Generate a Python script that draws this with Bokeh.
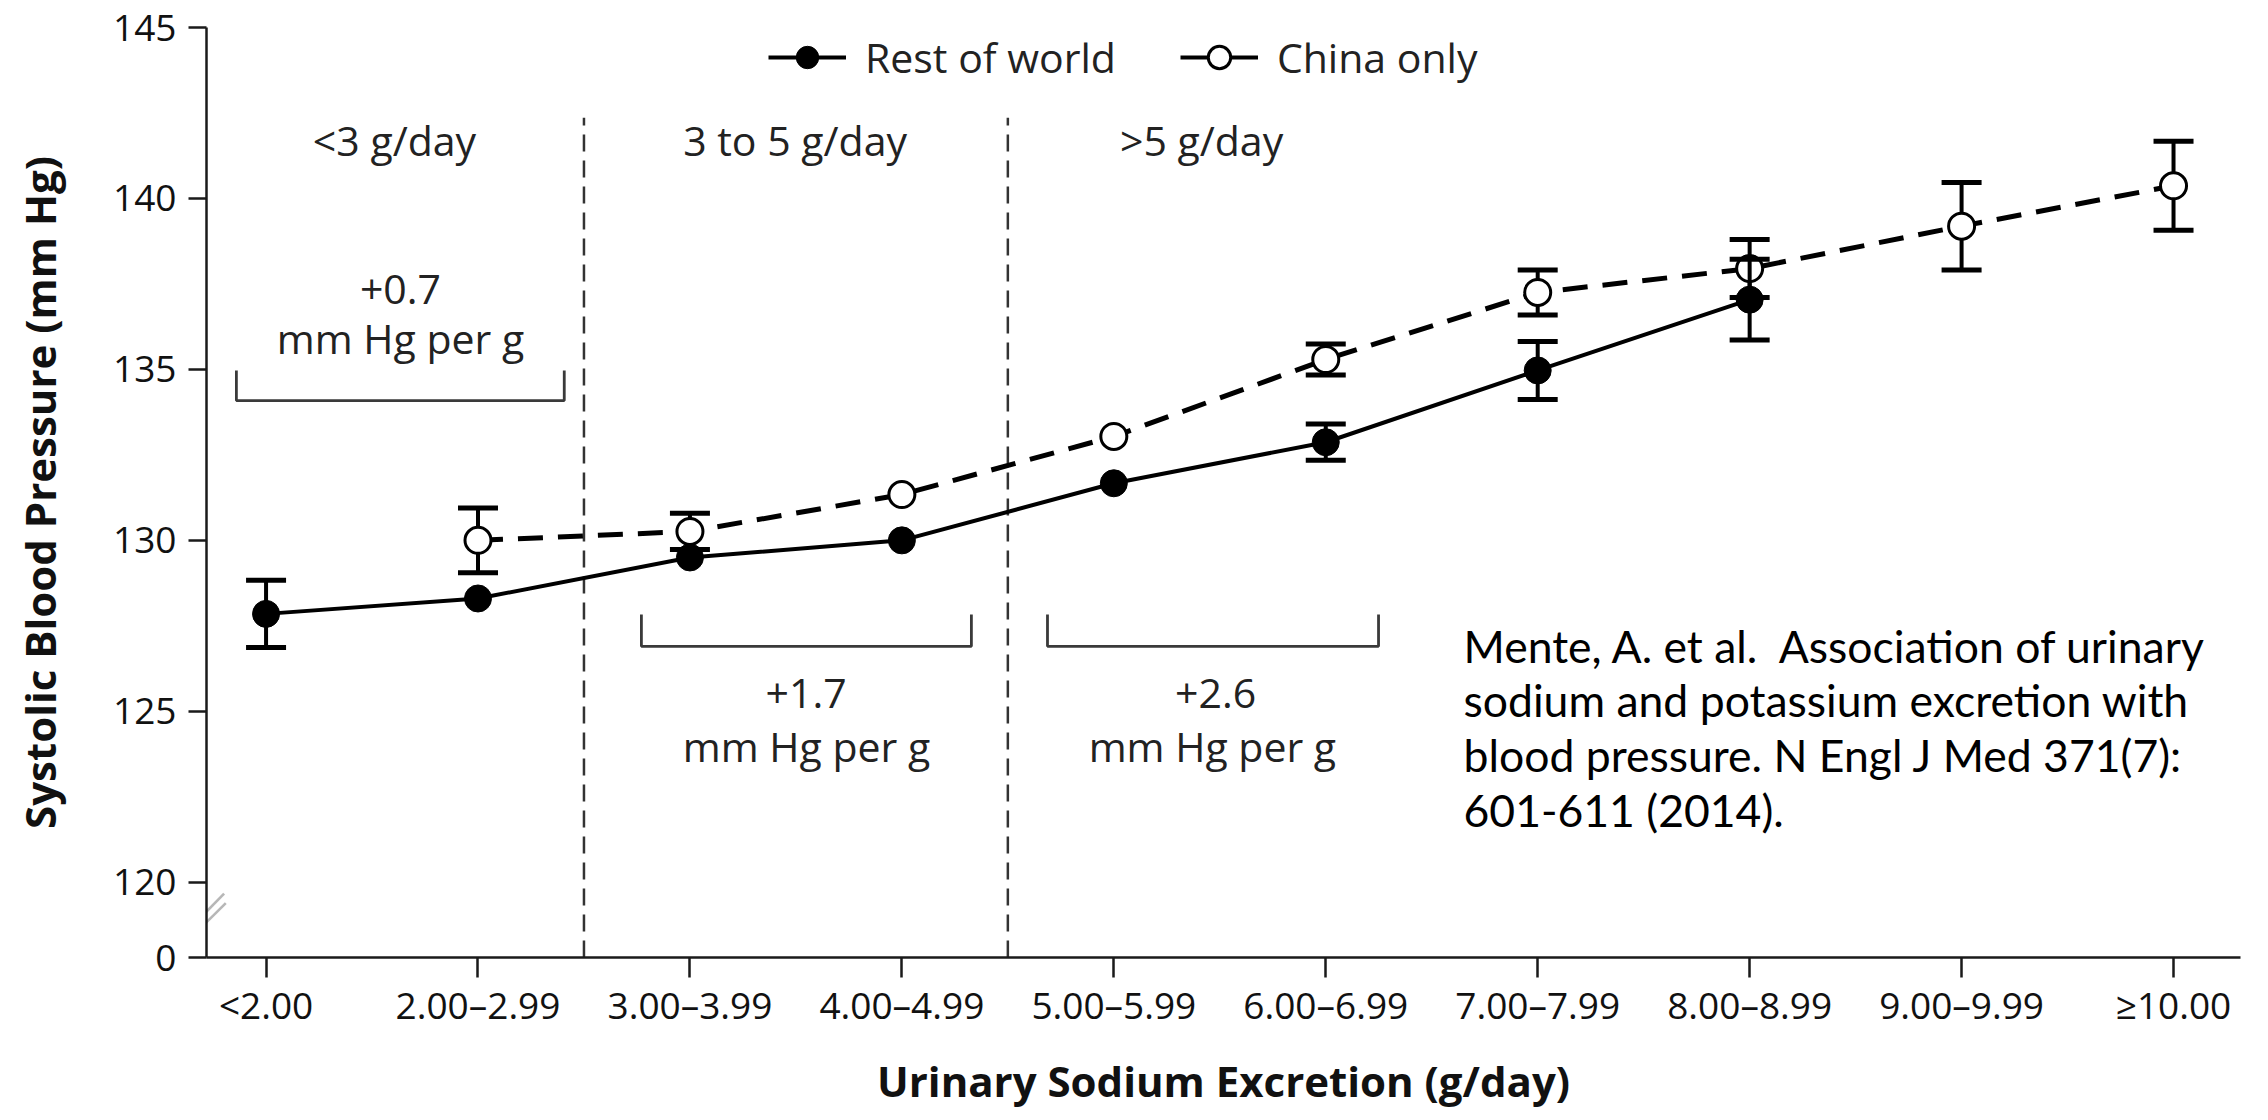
from bokeh.plotting import figure
from bokeh.models import (Range1d, FixedTicker, ColumnDataSource, Whisker, TeeHead,
                          Legend, LegendItem, PolyAnnotation)
from bokeh.core.properties import value
from bokeh.embed import file_html
from bokeh.resources import INLINE

# ---------------- data ----------------
categories = ["<2.00", "2.00–2.99", "3.00–3.99", "4.00–4.99", "5.00–5.99",
              "6.00–6.99", "7.00–7.99", "8.00–8.99", "9.00–9.99", "≥10.00"]
rest_of_world = [127.85, 128.3, 129.5, 130.0, 131.67, 132.87, 134.97, 137.04, None, None]
rest_of_world_err = [0.98, None, None, None, None, 0.53, 0.85, 1.18, None, None]
china_only = [None, 130.0, 130.26, 131.34, 133.04, 135.29, 137.25, 137.95, 139.19, 140.37]
china_only_err = [None, 0.95, 0.53, None, None, 0.45, 0.66, 0.85, 1.28, 1.30]

y_ticks = [120, 125, 130, 135, 140, 145]
y_zero_label = "0"
region_labels = ["<3 g/day", "3 to 5 g/day", ">5 g/day"]
slope_values = ["+0.7", "+1.7", "+2.6"]
slope_unit = "mm Hg per g"
citation_lines = ["Mente, A. et al.\u00a0 Association of urinary",
                  "sodium and potassium excretion with",
                  "blood pressure. N Engl J Med 371(7):",
                  "601-611 (2014)."]

# ---------------- layout constants (positions, not data) ----------------
Y_BREAK = 117.8          # where the broken axis shows "0"
Y_TOP = 145
X_START, X_END = -0.281, 9.316
FONT = "Open Sans"
PX = 930 / (Y_TOP - Y_BREAK)      # pixels per mm Hg
T_ANN = 15 / PX                    # text baseline corrections (data units)
T_CIT = 20 / PX


def series(vals, errs):
    xs, ys, ex, eu, el = [], [], [], [], []
    for i, (v, e) in enumerate(zip(vals, errs)):
        if v is None:
            continue
        xs.append(i)
        ys.append(v)
        if e is not None:
            ex.append(i)
            eu.append(v + e)
            el.append(v - e)
    return (ColumnDataSource(dict(x=xs, y=ys)),
            ColumnDataSource(dict(x=ex, upper=eu, lower=el)))


p = figure(width=2268, height=1120,
           x_range=Range1d(X_START, X_END), y_range=Range1d(Y_BREAK, Y_TOP),
           output_backend="svg", toolbar_location=None,
           min_border_left=206, min_border_right=28,
           min_border_top=27, min_border_bottom=163)
p.background_fill_color = "white"
p.border_fill_color = "white"
p.outline_line_color = None
p.grid.visible = False
# off-screen range used only by the legend proxies
p.extra_x_ranges = {"legend_proxy": Range1d(1000, 1001)}

# ---- axes ----
p.yaxis.ticker = FixedTicker(ticks=[Y_BREAK] + y_ticks)
p.yaxis.major_label_overrides = {Y_BREAK: y_zero_label}
p.xaxis.ticker = FixedTicker(ticks=list(range(len(categories))))
p.xaxis.major_label_overrides = {i: c for i, c in enumerate(categories)}

for ax in (p.xaxis, p.yaxis):
    ax.axis_line_width = 2.5
    ax.axis_line_color = "#1a1a1a"
    ax.major_tick_line_width = 2.5
    ax.major_tick_line_color = "#1a1a1a"
    ax.major_tick_in = 0
    ax.minor_tick_line_color = None
    ax.major_label_text_font = FONT
    ax.major_label_text_font_size = "37px"
    ax.major_label_text_color = "#111111"
    ax.axis_label_text_font = FONT
    ax.axis_label_text_font_style = "bold"
    ax.axis_label_text_font_size = "42px"
    ax.axis_label_text_color = "#111111"

p.xaxis.major_tick_out = 20
p.xaxis.major_label_standoff = 1
p.xaxis.axis_label = "Urinary Sodium Excretion (g/day)"
p.xaxis.axis_label_standoff = 19
p.yaxis.major_tick_out = 18
p.yaxis.major_label_standoff = 12
p.yaxis.axis_label = "Systolic Blood Pressure (mm Hg)"
p.yaxis.axis_label_standoff = 42

# ---- axis break marks (two short slanted strokes across the y axis) ----
for (x0, y0), (x1, y1) in (((-0.364, 118.62), (-0.198, 119.67)),
                           ((-0.364, 118.32), (-0.190, 119.39))):
    p.add_layout(PolyAnnotation(xs=[x0, x1], ys=[y0, y1],
                                xs_units="data", ys_units="data",
                                fill_alpha=0, line_color="#111111",
                                line_width=2.6, level="overlay"))

# ---- region dividers ----
dividers = [1.5, 3.5]
p.segment(x0=dividers, y0=[Y_BREAK] * 2, x1=dividers, y1=[142.36] * 2,
          line_color="#333333", line_width=2.5, line_dash="17 9")

# ---- brackets ----
br_x = [(-0.14, 1.407), (1.771, 3.328), (3.687, 5.249)]
br_y = [(134.97, 134.09), (127.83, 126.90), (127.83, 126.90)]
p.multi_line(xs=[[a, a, b, b] for a, b in br_x],
             ys=[[t, bse, bse, t] for t, bse in br_y],
             line_color="#3a3a3a", line_width=2.8)

# ---- annotation texts ----
txt = dict(text_font=value(FONT), text_font_size="41px", text_color="#222222",
           text_align="center", text_baseline="alphabetic")
p.text(x=[0.606, 2.496, 4.414], y=[141.26 + T_ANN] * 3, text=region_labels, **txt)
p.text(x=[0.634, 2.548, 4.48], y=[136.91 + T_ANN, 125.08 + T_ANN, 125.08 + T_ANN],
       text=slope_values, **txt)
p.text(x=[0.634, 2.55, 4.465], y=[135.49 + T_ANN, 123.56 + T_ANN, 123.56 + T_ANN],
       text=[slope_unit] * 3, **txt)

# ---- citation ----
cit_y = [126.34 + T_CIT, 124.76 + T_CIT, 123.15 + T_CIT, 121.54 + T_CIT]
p.text(x=[5.65] * len(citation_lines), y=cit_y, text=citation_lines,
       text_font=value("Lato"), text_font_size="44.5px", text_color="#000000",
       text_align="left", text_baseline="alphabetic")

# ---- series ----
row_src, row_err = series(rest_of_world, rest_of_world_err)
ch_src, ch_err = series(china_only, china_only_err)

p.add_layout(Whisker(source=ch_err, base="x", upper="upper", lower="lower",
                     line_width=4, line_color="black",
                     upper_head=TeeHead(size=40, line_width=5, line_color="black"),
                     lower_head=TeeHead(size=40, line_width=5, line_color="black")))
p.line("x", "y", source=ch_src, line_color="black", line_width=5, line_dash="25 15")
p.scatter("x", "y", source=ch_src, marker="circle", size=26,
          fill_color="white", line_color="black", line_width=3)

p.line("x", "y", source=row_src, line_color="black", line_width=4)
p.scatter("x", "y", source=row_src, marker="circle", size=27,
          fill_color="black", line_color="black")
p.add_layout(Whisker(source=row_err, base="x", upper="upper", lower="lower",
                     line_width=4, line_color="black", level="overlay",
                     upper_head=TeeHead(size=40, line_width=5, line_color="black"),
                     lower_head=TeeHead(size=40, line_width=5, line_color="black")))

# ---- legend (proxies of the same data, mapped off-screen) ----
lr_line = p.line("x", "y", source=row_src, x_range_name="legend_proxy",
                 line_color="black", line_width=4)
lr_mark = p.scatter("x", "y", source=row_src, x_range_name="legend_proxy",
                    marker="circle", size=22, fill_color="black", line_color="black")
lc_line = p.line("x", "y", source=ch_src, x_range_name="legend_proxy",
                 line_color="black", line_width=4)
lc_mark = p.scatter("x", "y", source=ch_src, x_range_name="legend_proxy",
                    marker="circle", size=22, fill_color="white",
                    line_color="black", line_width=3)
legend = Legend(items=[LegendItem(label="Rest of world", renderers=[lr_line, lr_mark]),
                       LegendItem(label="China only", renderers=[lc_line, lc_mark])],
                orientation="horizontal", location=(562, 872),
                glyph_width=78, glyph_height=56, label_height=56,
                label_standoff=19, spacing=64, padding=0, margin=0,
                border_line_alpha=0, background_fill_alpha=0,
                label_text_font=FONT, label_text_font_size="41px",
                label_text_color="#222222")
p.add_layout(legend)

open("out.html", "w").write(file_html(p, INLINE))
